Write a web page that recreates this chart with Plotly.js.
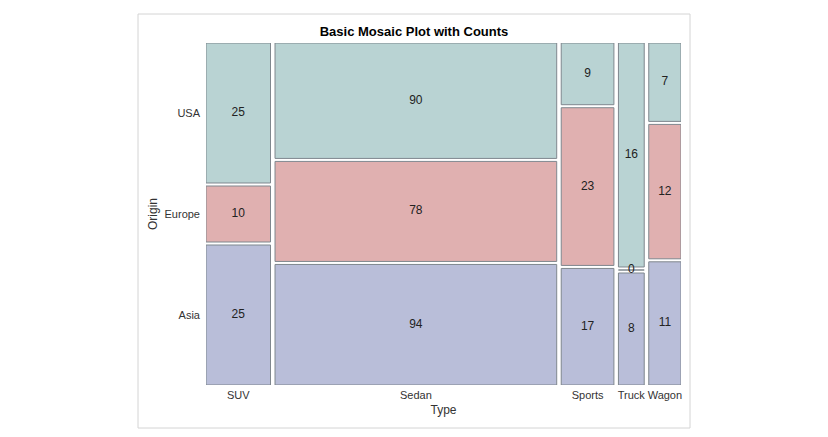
<!DOCTYPE html>
<html>
<head>
<meta charset="utf-8">
<script src="https://cdn.plot.ly/plotly-3.0.1.min.js"></script>
<style>html,body{margin:0;padding:0;background:#fff;}#chart{width:828px;height:437px;}</style>
</head>
<body>
<div id="chart"></div>
<script>
// ---- data ----
const types = ['SUV', 'Sedan', 'Sports', 'Truck', 'Wagon'];
const origins = ['Asia', 'Europe', 'USA'];
const asiaCounts = [25, 94, 17, 8, 11];
const europeCounts = [10, 78, 23, 0, 12];
const usaCounts = [25, 90, 9, 16, 7];

// ---- layout helpers ----
const series = [asiaCounts, europeCounts, usaCounts];
const colors = ['#b9bed9', '#e0b0b0', '#b9d3d3'];
const gapX = 4.2;     // gap between columns in count units
const gapY = 0.0088;  // gap between tiles in fraction units

const totals = types.map((t, i) => series.reduce((s, arr) => s + arr[i], 0));
const xStarts = [];
let acc = 0;
totals.forEach((t, i) => { xStarts.push(acc); acc += t + (i < totals.length - 1 ? gapX : 0); });
const xMax = acc;
const xCenters = totals.map((t, i) => xStarts[i] + t / 2);

const bases = series.map(() => []);
const heights = series.map(() => []);
types.forEach((t, i) => {
  const avail = 1 - gapY * (series.length - 1);
  let b = 0;
  series.forEach((arr, k) => {
    const h = arr[i] / totals[i] * avail;
    bases[k].push(b);
    heights[k].push(h);
    b += h + gapY;
  });
});

const traces = [];
series.forEach((arr, k) => {
  traces.push({
    type: 'bar', x: xCenters, y: heights[k], base: bases[k], width: totals,
    marker: {color: colors[k], line: {color: '#7f878e', width: 1}},
    hoverinfo: 'skip', showlegend: false
  });
});
series.forEach((arr, k) => {
  traces.push({
    type: 'scatter', mode: 'text', x: xCenters,
    y: bases[k].map((b, i) => b + heights[k][i] / 2),
    text: arr.map(String), textposition: 'middle center',
    textfont: {family: 'Arial, "Liberation Sans", sans-serif', size: 12, color: '#222'},
    hoverinfo: 'skip', showlegend: false
  });
});

const yTickVals = series.map((arr, k) => bases[k][0] + heights[k][0] / 2);

const font = {family: 'Arial, "Liberation Sans", sans-serif', size: 11, color: '#333'};
const layout = {
  width: 828, height: 437,
  margin: {l: 206, r: 147, t: 43, b: 52, pad: 0},
  paper_bgcolor: '#fff', plot_bgcolor: '#fff',
  barmode: 'overlay',
  font: font,
  title: {text: '<b>Basic Mosaic Plot with Counts</b>', x: 0.5, xref: 'container', xanchor: 'center',
          y: 1 - 31 / 437, yref: 'container', yanchor: 'middle',
          font: {family: 'Arial, "Liberation Sans", sans-serif', size: 13, color: '#000'}},
  xaxis: {range: [0, xMax], tickvals: xCenters, ticktext: types, showgrid: false, zeroline: false,
          showline: false, ticks: '', ticklabelstandoff: 2, fixedrange: true,
          title: {text: 'Type', standoff: 5, font: {family: 'Arial, "Liberation Sans", sans-serif', size: 12, color: '#333'}}},
  yaxis: {range: [0, 1], tickvals: yTickVals, ticktext: origins, showgrid: false, zeroline: false,
          showline: false, ticks: '', ticklabelstandoff: 5, fixedrange: true,
          title: {text: 'Origin', standoff: 4, font: {family: 'Arial, "Liberation Sans", sans-serif', size: 12, color: '#333'}}},
  shapes: [{type: 'rect', xref: 'paper', yref: 'paper',
            x0: (138 - 206) / 475, x1: (690 - 206) / 475,
            y0: (385 - 428) / 342, y1: (385 - 14) / 342,
            line: {color: '#d4d4d4', width: 1}, fillcolor: 'rgba(0,0,0,0)', layer: 'below'}]
};

Plotly.newPlot('chart', traces, layout, {displayModeBar: false, staticPlot: true});
</script>
</body>
</html>
